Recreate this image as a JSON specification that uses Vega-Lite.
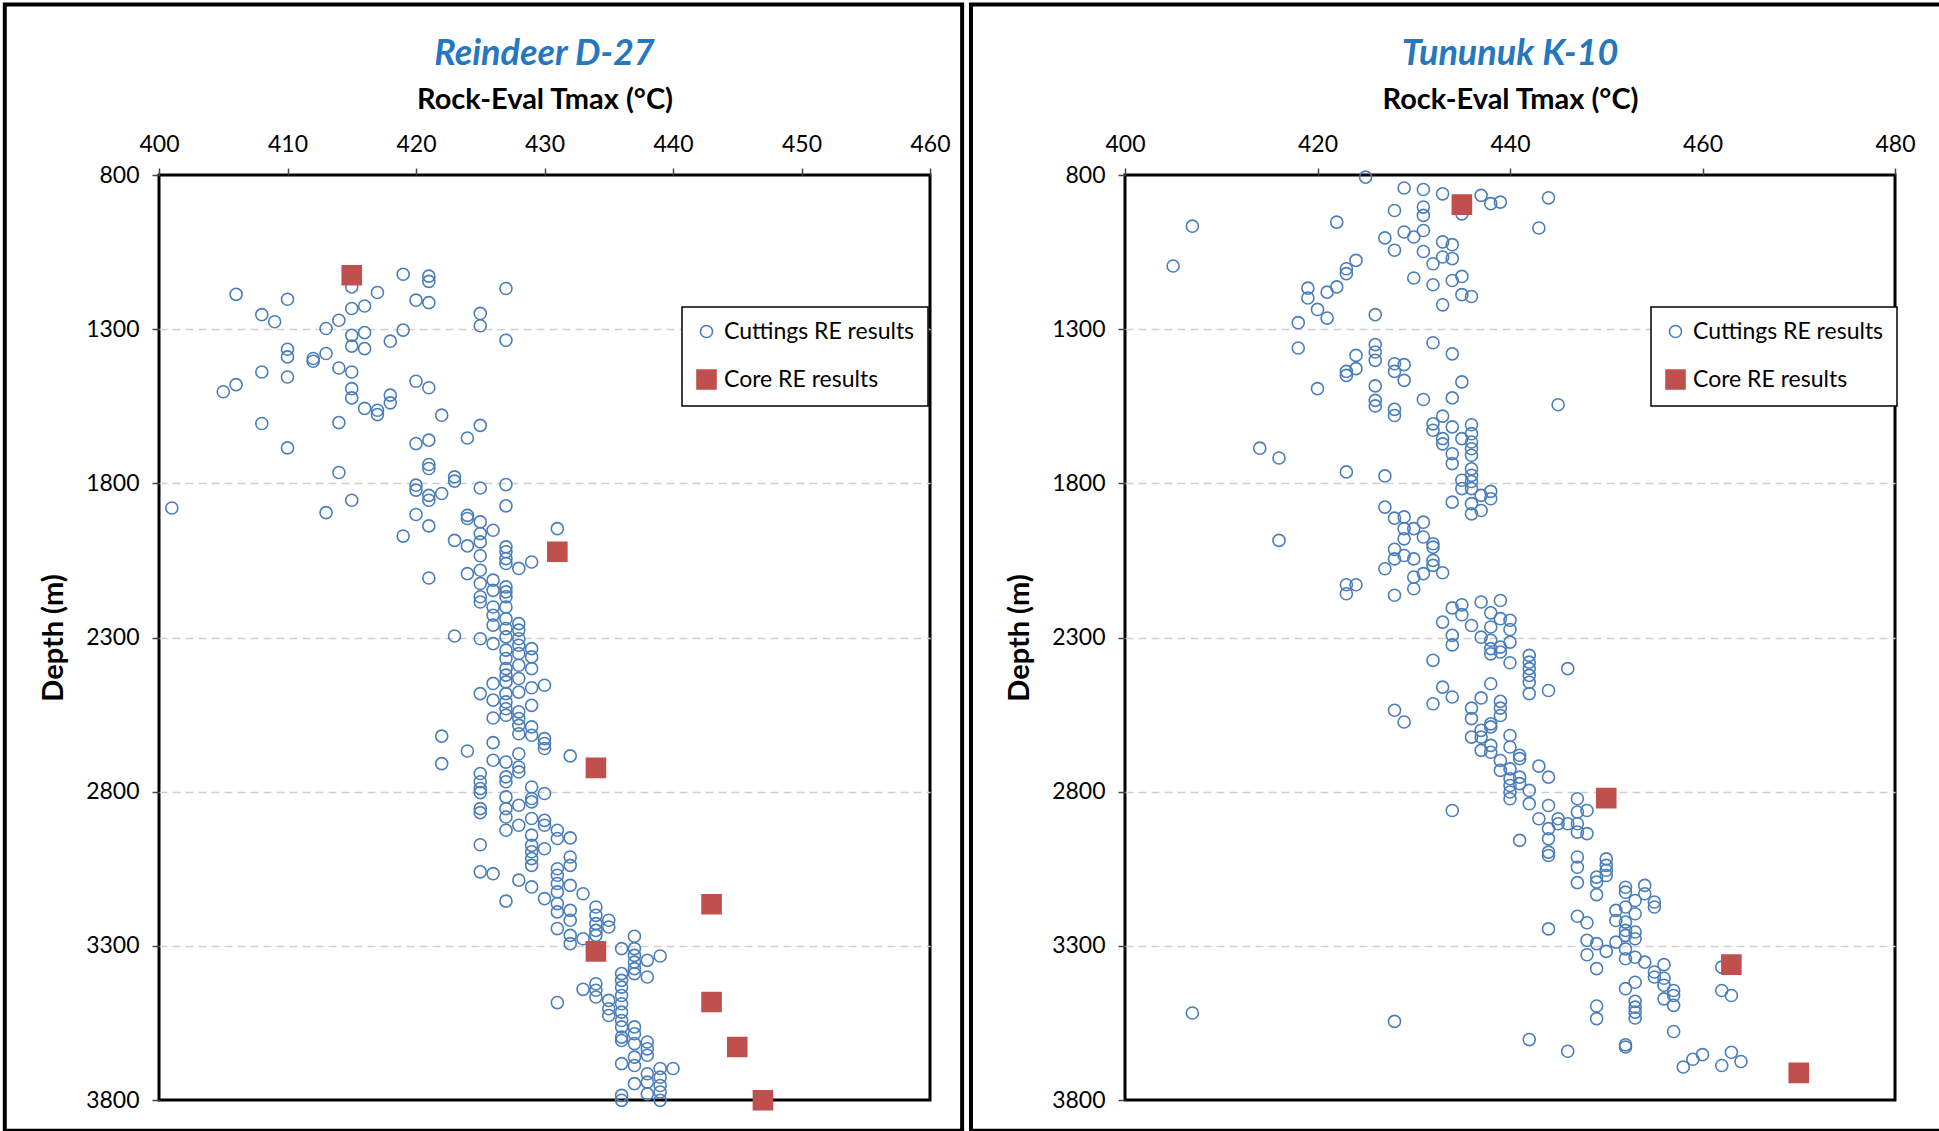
{
"$schema": "https://vega.github.io/schema/vega-lite/v6.json",
"background": "white",
"padding": {"left": 1, "top": 0, "right": 0, "bottom": 0},
"spacing": 1,
"datasets": {
"reindeer": [
{"t":406,"d":1187,"type":"Cuttings RE results"},{"t":410,"d":1203,"type":"Cuttings RE results"},{"t":415,"d":1163,"type":"Cuttings RE results"},{"t":417,"d":1181,"type":"Cuttings RE results"},{"t":419,"d":1122,"type":"Cuttings RE results"},{"t":421,"d":1128,"type":"Cuttings RE results"},{"t":421,"d":1145,"type":"Cuttings RE results"},{"t":427,"d":1168,"type":"Cuttings RE results"},{"t":420,"d":1206,"type":"Cuttings RE results"},{"t":421,"d":1214,"type":"Cuttings RE results"},{"t":408,"d":1253,"type":"Cuttings RE results"},{"t":409,"d":1276,"type":"Cuttings RE results"},{"t":415,"d":1233,"type":"Cuttings RE results"},{"t":416,"d":1225,"type":"Cuttings RE results"},{"t":414,"d":1271,"type":"Cuttings RE results"},{"t":413,"d":1298,"type":"Cuttings RE results"},{"t":425,"d":1249,"type":"Cuttings RE results"},{"t":425,"d":1289,"type":"Cuttings RE results"},{"t":415,"d":1320,"type":"Cuttings RE results"},{"t":416,"d":1311,"type":"Cuttings RE results"},{"t":419,"d":1303,"type":"Cuttings RE results"},{"t":418,"d":1339,"type":"Cuttings RE results"},{"t":427,"d":1336,"type":"Cuttings RE results"},{"t":415,"d":1355,"type":"Cuttings RE results"},{"t":416,"d":1363,"type":"Cuttings RE results"},{"t":410,"d":1365,"type":"Cuttings RE results"},{"t":410,"d":1390,"type":"Cuttings RE results"},{"t":412,"d":1395,"type":"Cuttings RE results"},{"t":412,"d":1404,"type":"Cuttings RE results"},{"t":413,"d":1379,"type":"Cuttings RE results"},{"t":408,"d":1439,"type":"Cuttings RE results"},{"t":410,"d":1455,"type":"Cuttings RE results"},{"t":414,"d":1426,"type":"Cuttings RE results"},{"t":415,"d":1439,"type":"Cuttings RE results"},{"t":405,"d":1503,"type":"Cuttings RE results"},{"t":406,"d":1480,"type":"Cuttings RE results"},{"t":415,"d":1493,"type":"Cuttings RE results"},{"t":415,"d":1523,"type":"Cuttings RE results"},{"t":416,"d":1557,"type":"Cuttings RE results"},{"t":417,"d":1563,"type":"Cuttings RE results"},{"t":417,"d":1577,"type":"Cuttings RE results"},{"t":418,"d":1514,"type":"Cuttings RE results"},{"t":418,"d":1539,"type":"Cuttings RE results"},{"t":420,"d":1469,"type":"Cuttings RE results"},{"t":421,"d":1490,"type":"Cuttings RE results"},{"t":408,"d":1606,"type":"Cuttings RE results"},{"t":414,"d":1603,"type":"Cuttings RE results"},{"t":422,"d":1579,"type":"Cuttings RE results"},{"t":425,"d":1612,"type":"Cuttings RE results"},{"t":424,"d":1653,"type":"Cuttings RE results"},{"t":420,"d":1671,"type":"Cuttings RE results"},{"t":421,"d":1660,"type":"Cuttings RE results"},{"t":410,"d":1685,"type":"Cuttings RE results"},{"t":421,"d":1739,"type":"Cuttings RE results"},{"t":421,"d":1752,"type":"Cuttings RE results"},{"t":414,"d":1765,"type":"Cuttings RE results"},{"t":423,"d":1779,"type":"Cuttings RE results"},{"t":423,"d":1793,"type":"Cuttings RE results"},{"t":420,"d":1806,"type":"Cuttings RE results"},{"t":420,"d":1822,"type":"Cuttings RE results"},{"t":421,"d":1839,"type":"Cuttings RE results"},{"t":421,"d":1855,"type":"Cuttings RE results"},{"t":422,"d":1833,"type":"Cuttings RE results"},{"t":425,"d":1815,"type":"Cuttings RE results"},{"t":427,"d":1804,"type":"Cuttings RE results"},{"t":401,"d":1880,"type":"Cuttings RE results"},{"t":413,"d":1895,"type":"Cuttings RE results"},{"t":415,"d":1855,"type":"Cuttings RE results"},{"t":420,"d":1901,"type":"Cuttings RE results"},{"t":427,"d":1873,"type":"Cuttings RE results"},{"t":424,"d":1904,"type":"Cuttings RE results"},{"t":424,"d":1914,"type":"Cuttings RE results"},{"t":425,"d":1925,"type":"Cuttings RE results"},{"t":421,"d":1938,"type":"Cuttings RE results"},{"t":426,"d":1952,"type":"Cuttings RE results"},{"t":431,"d":1947,"type":"Cuttings RE results"},{"t":419,"d":1971,"type":"Cuttings RE results"},{"t":423,"d":1985,"type":"Cuttings RE results"},{"t":424,"d":2003,"type":"Cuttings RE results"},{"t":425,"d":1963,"type":"Cuttings RE results"},{"t":425,"d":1990,"type":"Cuttings RE results"},{"t":427,"d":2006,"type":"Cuttings RE results"},{"t":427,"d":2022,"type":"Cuttings RE results"},{"t":427,"d":2044,"type":"Cuttings RE results"},{"t":427,"d":2060,"type":"Cuttings RE results"},{"t":425,"d":2035,"type":"Cuttings RE results"},{"t":428,"d":2076,"type":"Cuttings RE results"},{"t":429,"d":2055,"type":"Cuttings RE results"},{"t":421,"d":2107,"type":"Cuttings RE results"},{"t":424,"d":2093,"type":"Cuttings RE results"},{"t":425,"d":2082,"type":"Cuttings RE results"},{"t":425,"d":2125,"type":"Cuttings RE results"},{"t":425,"d":2168,"type":"Cuttings RE results"},{"t":425,"d":2185,"type":"Cuttings RE results"},{"t":426,"d":2114,"type":"Cuttings RE results"},{"t":426,"d":2147,"type":"Cuttings RE results"},{"t":427,"d":2136,"type":"Cuttings RE results"},{"t":427,"d":2152,"type":"Cuttings RE results"},{"t":427,"d":2168,"type":"Cuttings RE results"},{"t":426,"d":2201,"type":"Cuttings RE results"},{"t":426,"d":2228,"type":"Cuttings RE results"},{"t":426,"d":2260,"type":"Cuttings RE results"},{"t":427,"d":2201,"type":"Cuttings RE results"},{"t":427,"d":2239,"type":"Cuttings RE results"},{"t":427,"d":2271,"type":"Cuttings RE results"},{"t":428,"d":2255,"type":"Cuttings RE results"},{"t":428,"d":2276,"type":"Cuttings RE results"},{"t":423,"d":2295,"type":"Cuttings RE results"},{"t":425,"d":2304,"type":"Cuttings RE results"},{"t":426,"d":2320,"type":"Cuttings RE results"},{"t":427,"d":2298,"type":"Cuttings RE results"},{"t":427,"d":2341,"type":"Cuttings RE results"},{"t":427,"d":2368,"type":"Cuttings RE results"},{"t":427,"d":2401,"type":"Cuttings RE results"},{"t":427,"d":2422,"type":"Cuttings RE results"},{"t":427,"d":2444,"type":"Cuttings RE results"},{"t":428,"d":2304,"type":"Cuttings RE results"},{"t":428,"d":2325,"type":"Cuttings RE results"},{"t":428,"d":2352,"type":"Cuttings RE results"},{"t":428,"d":2390,"type":"Cuttings RE results"},{"t":429,"d":2336,"type":"Cuttings RE results"},{"t":429,"d":2363,"type":"Cuttings RE results"},{"t":429,"d":2401,"type":"Cuttings RE results"},{"t":426,"d":2449,"type":"Cuttings RE results"},{"t":428,"d":2433,"type":"Cuttings RE results"},{"t":429,"d":2463,"type":"Cuttings RE results"},{"t":430,"d":2455,"type":"Cuttings RE results"},{"t":425,"d":2482,"type":"Cuttings RE results"},{"t":426,"d":2503,"type":"Cuttings RE results"},{"t":427,"d":2482,"type":"Cuttings RE results"},{"t":427,"d":2509,"type":"Cuttings RE results"},{"t":427,"d":2531,"type":"Cuttings RE results"},{"t":428,"d":2477,"type":"Cuttings RE results"},{"t":429,"d":2520,"type":"Cuttings RE results"},{"t":427,"d":2552,"type":"Cuttings RE results"},{"t":426,"d":2561,"type":"Cuttings RE results"},{"t":428,"d":2541,"type":"Cuttings RE results"},{"t":428,"d":2563,"type":"Cuttings RE results"},{"t":428,"d":2585,"type":"Cuttings RE results"},{"t":428,"d":2612,"type":"Cuttings RE results"},{"t":429,"d":2590,"type":"Cuttings RE results"},{"t":429,"d":2617,"type":"Cuttings RE results"},{"t":422,"d":2620,"type":"Cuttings RE results"},{"t":426,"d":2641,"type":"Cuttings RE results"},{"t":430,"d":2628,"type":"Cuttings RE results"},{"t":430,"d":2644,"type":"Cuttings RE results"},{"t":430,"d":2660,"type":"Cuttings RE results"},{"t":424,"d":2668,"type":"Cuttings RE results"},{"t":428,"d":2677,"type":"Cuttings RE results"},{"t":432,"d":2684,"type":"Cuttings RE results"},{"t":422,"d":2709,"type":"Cuttings RE results"},{"t":426,"d":2698,"type":"Cuttings RE results"},{"t":427,"d":2704,"type":"Cuttings RE results"},{"t":428,"d":2720,"type":"Cuttings RE results"},{"t":428,"d":2736,"type":"Cuttings RE results"},{"t":425,"d":2741,"type":"Cuttings RE results"},{"t":425,"d":2768,"type":"Cuttings RE results"},{"t":425,"d":2790,"type":"Cuttings RE results"},{"t":425,"d":2803,"type":"Cuttings RE results"},{"t":427,"d":2752,"type":"Cuttings RE results"},{"t":427,"d":2768,"type":"Cuttings RE results"},{"t":429,"d":2785,"type":"Cuttings RE results"},{"t":429,"d":2822,"type":"Cuttings RE results"},{"t":429,"d":2833,"type":"Cuttings RE results"},{"t":430,"d":2806,"type":"Cuttings RE results"},{"t":427,"d":2817,"type":"Cuttings RE results"},{"t":427,"d":2855,"type":"Cuttings RE results"},{"t":427,"d":2882,"type":"Cuttings RE results"},{"t":428,"d":2844,"type":"Cuttings RE results"},{"t":425,"d":2855,"type":"Cuttings RE results"},{"t":425,"d":2868,"type":"Cuttings RE results"},{"t":429,"d":2887,"type":"Cuttings RE results"},{"t":430,"d":2893,"type":"Cuttings RE results"},{"t":430,"d":2909,"type":"Cuttings RE results"},{"t":427,"d":2925,"type":"Cuttings RE results"},{"t":428,"d":2909,"type":"Cuttings RE results"},{"t":431,"d":2925,"type":"Cuttings RE results"},{"t":429,"d":2941,"type":"Cuttings RE results"},{"t":429,"d":2974,"type":"Cuttings RE results"},{"t":429,"d":2995,"type":"Cuttings RE results"},{"t":429,"d":3017,"type":"Cuttings RE results"},{"t":429,"d":3039,"type":"Cuttings RE results"},{"t":430,"d":2985,"type":"Cuttings RE results"},{"t":431,"d":2952,"type":"Cuttings RE results"},{"t":432,"d":2950,"type":"Cuttings RE results"},{"t":432,"d":3012,"type":"Cuttings RE results"},{"t":432,"d":3039,"type":"Cuttings RE results"},{"t":425,"d":2972,"type":"Cuttings RE results"},{"t":425,"d":3060,"type":"Cuttings RE results"},{"t":426,"d":3066,"type":"Cuttings RE results"},{"t":428,"d":3087,"type":"Cuttings RE results"},{"t":429,"d":3109,"type":"Cuttings RE results"},{"t":431,"d":3050,"type":"Cuttings RE results"},{"t":431,"d":3071,"type":"Cuttings RE results"},{"t":431,"d":3098,"type":"Cuttings RE results"},{"t":431,"d":3125,"type":"Cuttings RE results"},{"t":432,"d":3104,"type":"Cuttings RE results"},{"t":433,"d":3131,"type":"Cuttings RE results"},{"t":427,"d":3155,"type":"Cuttings RE results"},{"t":430,"d":3147,"type":"Cuttings RE results"},{"t":431,"d":3163,"type":"Cuttings RE results"},{"t":431,"d":3190,"type":"Cuttings RE results"},{"t":432,"d":3185,"type":"Cuttings RE results"},{"t":434,"d":3174,"type":"Cuttings RE results"},{"t":434,"d":3201,"type":"Cuttings RE results"},{"t":435,"d":3217,"type":"Cuttings RE results"},{"t":432,"d":3217,"type":"Cuttings RE results"},{"t":434,"d":3228,"type":"Cuttings RE results"},{"t":434,"d":3250,"type":"Cuttings RE results"},{"t":434,"d":3266,"type":"Cuttings RE results"},{"t":435,"d":3239,"type":"Cuttings RE results"},{"t":431,"d":3244,"type":"Cuttings RE results"},{"t":432,"d":3266,"type":"Cuttings RE results"},{"t":432,"d":3293,"type":"Cuttings RE results"},{"t":433,"d":3277,"type":"Cuttings RE results"},{"t":437,"d":3269,"type":"Cuttings RE results"},{"t":436,"d":3309,"type":"Cuttings RE results"},{"t":437,"d":3309,"type":"Cuttings RE results"},{"t":437,"d":3331,"type":"Cuttings RE results"},{"t":437,"d":3353,"type":"Cuttings RE results"},{"t":437,"d":3374,"type":"Cuttings RE results"},{"t":437,"d":3390,"type":"Cuttings RE results"},{"t":438,"d":3347,"type":"Cuttings RE results"},{"t":438,"d":3401,"type":"Cuttings RE results"},{"t":439,"d":3333,"type":"Cuttings RE results"},{"t":436,"d":3390,"type":"Cuttings RE results"},{"t":436,"d":3412,"type":"Cuttings RE results"},{"t":436,"d":3434,"type":"Cuttings RE results"},{"t":436,"d":3461,"type":"Cuttings RE results"},{"t":433,"d":3441,"type":"Cuttings RE results"},{"t":434,"d":3423,"type":"Cuttings RE results"},{"t":434,"d":3444,"type":"Cuttings RE results"},{"t":434,"d":3466,"type":"Cuttings RE results"},{"t":431,"d":3484,"type":"Cuttings RE results"},{"t":435,"d":3477,"type":"Cuttings RE results"},{"t":435,"d":3504,"type":"Cuttings RE results"},{"t":435,"d":3526,"type":"Cuttings RE results"},{"t":436,"d":3488,"type":"Cuttings RE results"},{"t":436,"d":3515,"type":"Cuttings RE results"},{"t":436,"d":3542,"type":"Cuttings RE results"},{"t":436,"d":3563,"type":"Cuttings RE results"},{"t":436,"d":3596,"type":"Cuttings RE results"},{"t":436,"d":3607,"type":"Cuttings RE results"},{"t":437,"d":3563,"type":"Cuttings RE results"},{"t":437,"d":3585,"type":"Cuttings RE results"},{"t":437,"d":3617,"type":"Cuttings RE results"},{"t":438,"d":3612,"type":"Cuttings RE results"},{"t":438,"d":3634,"type":"Cuttings RE results"},{"t":438,"d":3655,"type":"Cuttings RE results"},{"t":436,"d":3682,"type":"Cuttings RE results"},{"t":437,"d":3661,"type":"Cuttings RE results"},{"t":437,"d":3688,"type":"Cuttings RE results"},{"t":438,"d":3715,"type":"Cuttings RE results"},{"t":438,"d":3742,"type":"Cuttings RE results"},{"t":439,"d":3698,"type":"Cuttings RE results"},{"t":439,"d":3726,"type":"Cuttings RE results"},{"t":439,"d":3753,"type":"Cuttings RE results"},{"t":439,"d":3774,"type":"Cuttings RE results"},{"t":439,"d":3801,"type":"Cuttings RE results"},{"t":440,"d":3698,"type":"Cuttings RE results"},{"t":437,"d":3747,"type":"Cuttings RE results"},{"t":438,"d":3780,"type":"Cuttings RE results"},{"t":436,"d":3785,"type":"Cuttings RE results"},{"t":436,"d":3801,"type":"Cuttings RE results"},
{"t":415,"d":1125,"type":"Core RE results"},{"t":431,"d":2022,"type":"Core RE results"},{"t":434,"d":2723,"type":"Core RE results"},{"t":443,"d":3165,"type":"Core RE results"},{"t":434,"d":3318,"type":"Core RE results"},{"t":443,"d":3482,"type":"Core RE results"},{"t":445,"d":3628,"type":"Core RE results"},{"t":447,"d":3801,"type":"Core RE results"}
],
"tununuk": [
{"t":425,"d":807,"type":"Cuttings RE results"},{"t":429,"d":842,"type":"Cuttings RE results"},{"t":431,"d":847,"type":"Cuttings RE results"},{"t":433,"d":861,"type":"Cuttings RE results"},{"t":435,"d":926,"type":"Cuttings RE results"},{"t":437,"d":866,"type":"Cuttings RE results"},{"t":438,"d":893,"type":"Cuttings RE results"},{"t":439,"d":888,"type":"Cuttings RE results"},{"t":444,"d":874,"type":"Cuttings RE results"},{"t":428,"d":915,"type":"Cuttings RE results"},{"t":431,"d":904,"type":"Cuttings RE results"},{"t":431,"d":931,"type":"Cuttings RE results"},{"t":407,"d":966,"type":"Cuttings RE results"},{"t":422,"d":953,"type":"Cuttings RE results"},{"t":443,"d":972,"type":"Cuttings RE results"},{"t":429,"d":985,"type":"Cuttings RE results"},{"t":431,"d":980,"type":"Cuttings RE results"},{"t":430,"d":1001,"type":"Cuttings RE results"},{"t":427,"d":1004,"type":"Cuttings RE results"},{"t":428,"d":1044,"type":"Cuttings RE results"},{"t":431,"d":1048,"type":"Cuttings RE results"},{"t":433,"d":1017,"type":"Cuttings RE results"},{"t":434,"d":1026,"type":"Cuttings RE results"},{"t":434,"d":1071,"type":"Cuttings RE results"},{"t":433,"d":1066,"type":"Cuttings RE results"},{"t":432,"d":1088,"type":"Cuttings RE results"},{"t":405,"d":1095,"type":"Cuttings RE results"},{"t":424,"d":1077,"type":"Cuttings RE results"},{"t":423,"d":1104,"type":"Cuttings RE results"},{"t":423,"d":1120,"type":"Cuttings RE results"},{"t":430,"d":1134,"type":"Cuttings RE results"},{"t":432,"d":1156,"type":"Cuttings RE results"},{"t":434,"d":1142,"type":"Cuttings RE results"},{"t":435,"d":1129,"type":"Cuttings RE results"},{"t":435,"d":1188,"type":"Cuttings RE results"},{"t":436,"d":1194,"type":"Cuttings RE results"},{"t":433,"d":1221,"type":"Cuttings RE results"},{"t":419,"d":1167,"type":"Cuttings RE results"},{"t":419,"d":1199,"type":"Cuttings RE results"},{"t":421,"d":1180,"type":"Cuttings RE results"},{"t":422,"d":1163,"type":"Cuttings RE results"},{"t":420,"d":1236,"type":"Cuttings RE results"},{"t":421,"d":1264,"type":"Cuttings RE results"},{"t":426,"d":1253,"type":"Cuttings RE results"},{"t":418,"d":1279,"type":"Cuttings RE results"},{"t":418,"d":1361,"type":"Cuttings RE results"},{"t":426,"d":1350,"type":"Cuttings RE results"},{"t":426,"d":1374,"type":"Cuttings RE results"},{"t":426,"d":1401,"type":"Cuttings RE results"},{"t":424,"d":1385,"type":"Cuttings RE results"},{"t":424,"d":1428,"type":"Cuttings RE results"},{"t":423,"d":1437,"type":"Cuttings RE results"},{"t":423,"d":1450,"type":"Cuttings RE results"},{"t":428,"d":1412,"type":"Cuttings RE results"},{"t":428,"d":1437,"type":"Cuttings RE results"},{"t":429,"d":1415,"type":"Cuttings RE results"},{"t":429,"d":1466,"type":"Cuttings RE results"},{"t":432,"d":1344,"type":"Cuttings RE results"},{"t":434,"d":1380,"type":"Cuttings RE results"},{"t":435,"d":1471,"type":"Cuttings RE results"},{"t":420,"d":1493,"type":"Cuttings RE results"},{"t":426,"d":1484,"type":"Cuttings RE results"},{"t":426,"d":1531,"type":"Cuttings RE results"},{"t":431,"d":1528,"type":"Cuttings RE results"},{"t":434,"d":1523,"type":"Cuttings RE results"},{"t":445,"d":1545,"type":"Cuttings RE results"},{"t":426,"d":1549,"type":"Cuttings RE results"},{"t":428,"d":1560,"type":"Cuttings RE results"},{"t":428,"d":1580,"type":"Cuttings RE results"},{"t":432,"d":1607,"type":"Cuttings RE results"},{"t":432,"d":1628,"type":"Cuttings RE results"},{"t":433,"d":1582,"type":"Cuttings RE results"},{"t":433,"d":1655,"type":"Cuttings RE results"},{"t":433,"d":1672,"type":"Cuttings RE results"},{"t":434,"d":1617,"type":"Cuttings RE results"},{"t":435,"d":1655,"type":"Cuttings RE results"},{"t":436,"d":1610,"type":"Cuttings RE results"},{"t":436,"d":1639,"type":"Cuttings RE results"},{"t":436,"d":1666,"type":"Cuttings RE results"},{"t":436,"d":1688,"type":"Cuttings RE results"},{"t":436,"d":1709,"type":"Cuttings RE results"},{"t":436,"d":1753,"type":"Cuttings RE results"},{"t":436,"d":1774,"type":"Cuttings RE results"},{"t":436,"d":1794,"type":"Cuttings RE results"},{"t":436,"d":1817,"type":"Cuttings RE results"},{"t":434,"d":1704,"type":"Cuttings RE results"},{"t":434,"d":1736,"type":"Cuttings RE results"},{"t":435,"d":1790,"type":"Cuttings RE results"},{"t":435,"d":1817,"type":"Cuttings RE results"},{"t":414,"d":1686,"type":"Cuttings RE results"},{"t":416,"d":1718,"type":"Cuttings RE results"},{"t":423,"d":1763,"type":"Cuttings RE results"},{"t":427,"d":1776,"type":"Cuttings RE results"},{"t":438,"d":1826,"type":"Cuttings RE results"},{"t":438,"d":1850,"type":"Cuttings RE results"},{"t":437,"d":1839,"type":"Cuttings RE results"},{"t":437,"d":1888,"type":"Cuttings RE results"},{"t":434,"d":1861,"type":"Cuttings RE results"},{"t":436,"d":1866,"type":"Cuttings RE results"},{"t":436,"d":1899,"type":"Cuttings RE results"},{"t":427,"d":1877,"type":"Cuttings RE results"},{"t":428,"d":1913,"type":"Cuttings RE results"},{"t":429,"d":1909,"type":"Cuttings RE results"},{"t":429,"d":1947,"type":"Cuttings RE results"},{"t":429,"d":1980,"type":"Cuttings RE results"},{"t":431,"d":1926,"type":"Cuttings RE results"},{"t":431,"d":1974,"type":"Cuttings RE results"},{"t":430,"d":1947,"type":"Cuttings RE results"},{"t":416,"d":1985,"type":"Cuttings RE results"},{"t":432,"d":1996,"type":"Cuttings RE results"},{"t":432,"d":2007,"type":"Cuttings RE results"},{"t":428,"d":2014,"type":"Cuttings RE results"},{"t":428,"d":2045,"type":"Cuttings RE results"},{"t":429,"d":2034,"type":"Cuttings RE results"},{"t":430,"d":2045,"type":"Cuttings RE results"},{"t":427,"d":2077,"type":"Cuttings RE results"},{"t":432,"d":2050,"type":"Cuttings RE results"},{"t":432,"d":2066,"type":"Cuttings RE results"},{"t":433,"d":2090,"type":"Cuttings RE results"},{"t":431,"d":2093,"type":"Cuttings RE results"},{"t":430,"d":2104,"type":"Cuttings RE results"},{"t":430,"d":2142,"type":"Cuttings RE results"},{"t":423,"d":2129,"type":"Cuttings RE results"},{"t":423,"d":2158,"type":"Cuttings RE results"},{"t":424,"d":2129,"type":"Cuttings RE results"},{"t":428,"d":2163,"type":"Cuttings RE results"},{"t":437,"d":2185,"type":"Cuttings RE results"},{"t":439,"d":2180,"type":"Cuttings RE results"},{"t":434,"d":2204,"type":"Cuttings RE results"},{"t":435,"d":2194,"type":"Cuttings RE results"},{"t":435,"d":2226,"type":"Cuttings RE results"},{"t":438,"d":2220,"type":"Cuttings RE results"},{"t":433,"d":2250,"type":"Cuttings RE results"},{"t":436,"d":2261,"type":"Cuttings RE results"},{"t":439,"d":2239,"type":"Cuttings RE results"},{"t":440,"d":2244,"type":"Cuttings RE results"},{"t":438,"d":2266,"type":"Cuttings RE results"},{"t":440,"d":2274,"type":"Cuttings RE results"},{"t":438,"d":2309,"type":"Cuttings RE results"},{"t":438,"d":2336,"type":"Cuttings RE results"},{"t":438,"d":2353,"type":"Cuttings RE results"},{"t":440,"d":2315,"type":"Cuttings RE results"},{"t":440,"d":2382,"type":"Cuttings RE results"},{"t":434,"d":2293,"type":"Cuttings RE results"},{"t":434,"d":2324,"type":"Cuttings RE results"},{"t":437,"d":2299,"type":"Cuttings RE results"},{"t":439,"d":2331,"type":"Cuttings RE results"},{"t":439,"d":2347,"type":"Cuttings RE results"},{"t":442,"d":2358,"type":"Cuttings RE results"},{"t":442,"d":2380,"type":"Cuttings RE results"},{"t":442,"d":2401,"type":"Cuttings RE results"},{"t":442,"d":2423,"type":"Cuttings RE results"},{"t":442,"d":2445,"type":"Cuttings RE results"},{"t":442,"d":2482,"type":"Cuttings RE results"},{"t":446,"d":2401,"type":"Cuttings RE results"},{"t":432,"d":2374,"type":"Cuttings RE results"},{"t":438,"d":2450,"type":"Cuttings RE results"},{"t":444,"d":2472,"type":"Cuttings RE results"},{"t":433,"d":2461,"type":"Cuttings RE results"},{"t":434,"d":2493,"type":"Cuttings RE results"},{"t":437,"d":2496,"type":"Cuttings RE results"},{"t":432,"d":2515,"type":"Cuttings RE results"},{"t":428,"d":2536,"type":"Cuttings RE results"},{"t":429,"d":2574,"type":"Cuttings RE results"},{"t":436,"d":2529,"type":"Cuttings RE results"},{"t":436,"d":2563,"type":"Cuttings RE results"},{"t":439,"d":2507,"type":"Cuttings RE results"},{"t":439,"d":2529,"type":"Cuttings RE results"},{"t":439,"d":2553,"type":"Cuttings RE results"},{"t":438,"d":2580,"type":"Cuttings RE results"},{"t":438,"d":2590,"type":"Cuttings RE results"},{"t":437,"d":2601,"type":"Cuttings RE results"},{"t":437,"d":2623,"type":"Cuttings RE results"},{"t":437,"d":2666,"type":"Cuttings RE results"},{"t":436,"d":2623,"type":"Cuttings RE results"},{"t":438,"d":2650,"type":"Cuttings RE results"},{"t":438,"d":2672,"type":"Cuttings RE results"},{"t":440,"d":2618,"type":"Cuttings RE results"},{"t":440,"d":2655,"type":"Cuttings RE results"},{"t":441,"d":2682,"type":"Cuttings RE results"},{"t":441,"d":2693,"type":"Cuttings RE results"},{"t":439,"d":2699,"type":"Cuttings RE results"},{"t":439,"d":2731,"type":"Cuttings RE results"},{"t":440,"d":2726,"type":"Cuttings RE results"},{"t":440,"d":2758,"type":"Cuttings RE results"},{"t":440,"d":2780,"type":"Cuttings RE results"},{"t":440,"d":2801,"type":"Cuttings RE results"},{"t":440,"d":2823,"type":"Cuttings RE results"},{"t":441,"d":2753,"type":"Cuttings RE results"},{"t":441,"d":2774,"type":"Cuttings RE results"},{"t":442,"d":2796,"type":"Cuttings RE results"},{"t":443,"d":2717,"type":"Cuttings RE results"},{"t":444,"d":2753,"type":"Cuttings RE results"},{"t":434,"d":2861,"type":"Cuttings RE results"},{"t":442,"d":2839,"type":"Cuttings RE results"},{"t":444,"d":2845,"type":"Cuttings RE results"},{"t":447,"d":2823,"type":"Cuttings RE results"},{"t":447,"d":2866,"type":"Cuttings RE results"},{"t":448,"d":2861,"type":"Cuttings RE results"},{"t":443,"d":2888,"type":"Cuttings RE results"},{"t":445,"d":2888,"type":"Cuttings RE results"},{"t":445,"d":2904,"type":"Cuttings RE results"},{"t":446,"d":2904,"type":"Cuttings RE results"},{"t":444,"d":2920,"type":"Cuttings RE results"},{"t":444,"d":2953,"type":"Cuttings RE results"},{"t":447,"d":2904,"type":"Cuttings RE results"},{"t":447,"d":2931,"type":"Cuttings RE results"},{"t":448,"d":2936,"type":"Cuttings RE results"},{"t":441,"d":2958,"type":"Cuttings RE results"},{"t":444,"d":2996,"type":"Cuttings RE results"},{"t":444,"d":3007,"type":"Cuttings RE results"},{"t":447,"d":3012,"type":"Cuttings RE results"},{"t":450,"d":3018,"type":"Cuttings RE results"},{"t":447,"d":3045,"type":"Cuttings RE results"},{"t":450,"d":3039,"type":"Cuttings RE results"},{"t":450,"d":3055,"type":"Cuttings RE results"},{"t":450,"d":3072,"type":"Cuttings RE results"},{"t":449,"d":3077,"type":"Cuttings RE results"},{"t":449,"d":3093,"type":"Cuttings RE results"},{"t":447,"d":3095,"type":"Cuttings RE results"},{"t":449,"d":3134,"type":"Cuttings RE results"},{"t":452,"d":3110,"type":"Cuttings RE results"},{"t":452,"d":3126,"type":"Cuttings RE results"},{"t":454,"d":3104,"type":"Cuttings RE results"},{"t":454,"d":3131,"type":"Cuttings RE results"},{"t":453,"d":3153,"type":"Cuttings RE results"},{"t":455,"d":3158,"type":"Cuttings RE results"},{"t":455,"d":3174,"type":"Cuttings RE results"},{"t":451,"d":3185,"type":"Cuttings RE results"},{"t":451,"d":3218,"type":"Cuttings RE results"},{"t":452,"d":3174,"type":"Cuttings RE results"},{"t":452,"d":3223,"type":"Cuttings RE results"},{"t":453,"d":3196,"type":"Cuttings RE results"},{"t":447,"d":3204,"type":"Cuttings RE results"},{"t":448,"d":3225,"type":"Cuttings RE results"},{"t":444,"d":3245,"type":"Cuttings RE results"},{"t":452,"d":3250,"type":"Cuttings RE results"},{"t":452,"d":3266,"type":"Cuttings RE results"},{"t":453,"d":3255,"type":"Cuttings RE results"},{"t":453,"d":3277,"type":"Cuttings RE results"},{"t":448,"d":3282,"type":"Cuttings RE results"},{"t":449,"d":3293,"type":"Cuttings RE results"},{"t":451,"d":3288,"type":"Cuttings RE results"},{"t":450,"d":3318,"type":"Cuttings RE results"},{"t":452,"d":3310,"type":"Cuttings RE results"},{"t":452,"d":3342,"type":"Cuttings RE results"},{"t":448,"d":3329,"type":"Cuttings RE results"},{"t":453,"d":3337,"type":"Cuttings RE results"},{"t":454,"d":3353,"type":"Cuttings RE results"},{"t":456,"d":3361,"type":"Cuttings RE results"},{"t":455,"d":3385,"type":"Cuttings RE results"},{"t":455,"d":3401,"type":"Cuttings RE results"},{"t":456,"d":3405,"type":"Cuttings RE results"},{"t":456,"d":3428,"type":"Cuttings RE results"},{"t":449,"d":3374,"type":"Cuttings RE results"},{"t":453,"d":3418,"type":"Cuttings RE results"},{"t":452,"d":3439,"type":"Cuttings RE results"},{"t":457,"d":3445,"type":"Cuttings RE results"},{"t":457,"d":3461,"type":"Cuttings RE results"},{"t":457,"d":3493,"type":"Cuttings RE results"},{"t":456,"d":3472,"type":"Cuttings RE results"},{"t":462,"d":3369,"type":"Cuttings RE results"},{"t":462,"d":3445,"type":"Cuttings RE results"},{"t":463,"d":3461,"type":"Cuttings RE results"},{"t":449,"d":3495,"type":"Cuttings RE results"},{"t":449,"d":3536,"type":"Cuttings RE results"},{"t":453,"d":3480,"type":"Cuttings RE results"},{"t":453,"d":3499,"type":"Cuttings RE results"},{"t":453,"d":3515,"type":"Cuttings RE results"},{"t":453,"d":3534,"type":"Cuttings RE results"},{"t":457,"d":3578,"type":"Cuttings RE results"},{"t":407,"d":3518,"type":"Cuttings RE results"},{"t":428,"d":3545,"type":"Cuttings RE results"},{"t":442,"d":3604,"type":"Cuttings RE results"},{"t":446,"d":3642,"type":"Cuttings RE results"},{"t":452,"d":3621,"type":"Cuttings RE results"},{"t":452,"d":3628,"type":"Cuttings RE results"},{"t":458,"d":3693,"type":"Cuttings RE results"},{"t":459,"d":3668,"type":"Cuttings RE results"},{"t":460,"d":3653,"type":"Cuttings RE results"},{"t":462,"d":3688,"type":"Cuttings RE results"},{"t":463,"d":3645,"type":"Cuttings RE results"},{"t":464,"d":3675,"type":"Cuttings RE results"},
{"t":435,"d":896,"type":"Core RE results"},{"t":450,"d":2821,"type":"Core RE results"},{"t":463,"d":3361,"type":"Core RE results"},{"t":470,"d":3712,"type":"Core RE results"}
]
},
"hconcat": [
{
"width": 771, "height": 925,
"title": {"text": "Reindeer D-27", "frame": "group", "anchor": "middle", "offset": -71},
"layer": [
{"data": {"name": "reindeer"}, "mark": {"type": "point", "opacity": 1, "strokeWidth": 1.6},
 "encoding": {
  "x": {"field": "t", "type": "quantitative", "scale": {"domain": [400, 460], "nice": false, "zero": false},
        "axis": {"orient": "top", "title": "Rock-Eval Tmax (°C)", "values": [400,410,420,430,440,450,460], "grid": false, "labelFlush": false, "tickSize": 7, "labelPadding": 12, "titlePadding": 19}},
  "y": {"field": "d", "type": "quantitative", "scale": {"domain": [800, 3800], "nice": false, "zero": false, "reverse": true},
        "axis": {"title": "Depth (m)", "format": "d", "values": [800,1300,1800,2300,2800,3300,3800], "grid": true, "gridColor": {"condition": {"test": "datum.value <= 800 || datum.value >= 3800", "value": "transparent"}, "value": "#CFCFCF"}, "tickSize": 7, "labelPadding": 13, "titlePadding": 17}},
  "fill": {"field": "type", "type": "nominal", "scale": {"domain": ["Cuttings RE results", "Core RE results"], "range": ["transparent", "#C0504D"]}, "legend": {"title": null, "orient": "none", "legendX": 523, "legendY": 132}},
  "stroke": {"field": "type", "type": "nominal", "scale": {"domain": ["Cuttings RE results", "Core RE results"], "range": ["#4A7EBB", "#C0504D"]}, "legend": {"title": null, "orient": "none", "legendX": 523, "legendY": 132}},
  "shape": {"field": "type", "type": "nominal", "scale": {"domain": ["Cuttings RE results", "Core RE results"], "range": ["circle", "square"]}, "legend": {"title": null, "orient": "none", "legendX": 523, "legendY": 132}},
  "size": {"field": "type", "type": "nominal", "scale": {"domain": ["Cuttings RE results", "Core RE results"], "range": [145, 361], "padding": 0}, "legend": {"title": null, "orient": "none", "legendX": 523, "legendY": 132}}
 }},
{"data": {"values": [{}]}, "mark": {"type": "rect", "fill": "transparent", "stroke": "#000", "strokeWidth": 4},
 "encoding": {"x": {"datum": 388.0, "type": "quantitative"}, "x2": {"datum": 462.5}, "y": {"datum": 247, "type": "quantitative"}, "y2": {"datum": 3900}}}
]
},
{
"width": 770, "height": 925,
"title": {"text": "Tununuk K-10", "frame": "group", "anchor": "middle", "offset": -71},
"layer": [
{"data": {"name": "tununuk"}, "mark": {"type": "point", "opacity": 1, "strokeWidth": 1.6},
 "encoding": {
  "x": {"field": "t", "type": "quantitative", "scale": {"domain": [400, 480], "nice": false, "zero": false},
        "axis": {"orient": "top", "title": "Rock-Eval Tmax (°C)", "values": [400,420,440,460,480], "grid": false, "labelFlush": false, "tickSize": 7, "labelPadding": 12, "titlePadding": 19}},
  "y": {"field": "d", "type": "quantitative", "scale": {"domain": [800, 3800], "nice": false, "zero": false, "reverse": true},
        "axis": {"title": "Depth (m)", "format": "d", "values": [800,1300,1800,2300,2800,3300,3800], "grid": true, "gridColor": {"condition": {"test": "datum.value <= 800 || datum.value >= 3800", "value": "transparent"}, "value": "#CFCFCF"}, "tickSize": 7, "labelPadding": 13, "titlePadding": 17}},
  "fill": {"field": "type", "type": "nominal", "scale": {"domain": ["Cuttings RE results", "Core RE results"], "range": ["transparent", "#C0504D"]}, "legend": {"title": null, "orient": "none", "legendX": 526, "legendY": 132}},
  "stroke": {"field": "type", "type": "nominal", "scale": {"domain": ["Cuttings RE results", "Core RE results"], "range": ["#4A7EBB", "#C0504D"]}, "legend": {"title": null, "orient": "none", "legendX": 526, "legendY": 132}},
  "shape": {"field": "type", "type": "nominal", "scale": {"domain": ["Cuttings RE results", "Core RE results"], "range": ["circle", "square"]}, "legend": {"title": null, "orient": "none", "legendX": 526, "legendY": 132}},
  "size": {"field": "type", "type": "nominal", "scale": {"domain": ["Cuttings RE results", "Core RE results"], "range": [145, 361], "padding": 0}, "legend": {"title": null, "orient": "none", "legendX": 526, "legendY": 132}}
 }},
{"data": {"values": [{}]}, "mark": {"type": "rect", "fill": "transparent", "stroke": "#000", "strokeWidth": 4},
 "encoding": {"x": {"datum": 384.0, "type": "quantitative"}, "x2": {"datum": 484.78}, "y": {"datum": 247, "type": "quantitative"}, "y2": {"datum": 3900}}}
]
}
],
"resolve": {"scale": {"fill": "independent", "stroke": "independent", "shape": "independent", "size": "independent"}},
"config": {
 "font": "Lato",
 "view": {"stroke": "#000", "strokeWidth": 3},
 "title": {"font": "Lato", "fontSize": 36, "fontStyle": "italic", "fontWeight": "bold", "color": "#2577C0"},
 "axis": {"labelFont": "Lato", "labelFontSize": 23, "labelColor": "#000", "titleFont": "Lato", "titleFontSize": 29, "titleFontWeight": "bold", "titleColor": "#000", "domain": false, "tickColor": "#444", "tickWidth": 1.5, "gridDash": [8, 5], "gridWidth": 1.5},
 "legend": {"labelFont": "Lato", "labelFontSize": 23, "labelColor": "#000", "padding": 13, "rowPadding": 22, "strokeColor": "#000", "strokeWidth": 1.5, "fillColor": "white", "labelOffset": 6, "symbolStrokeWidth": 1.6, "labelLimit": 400}
}
}
